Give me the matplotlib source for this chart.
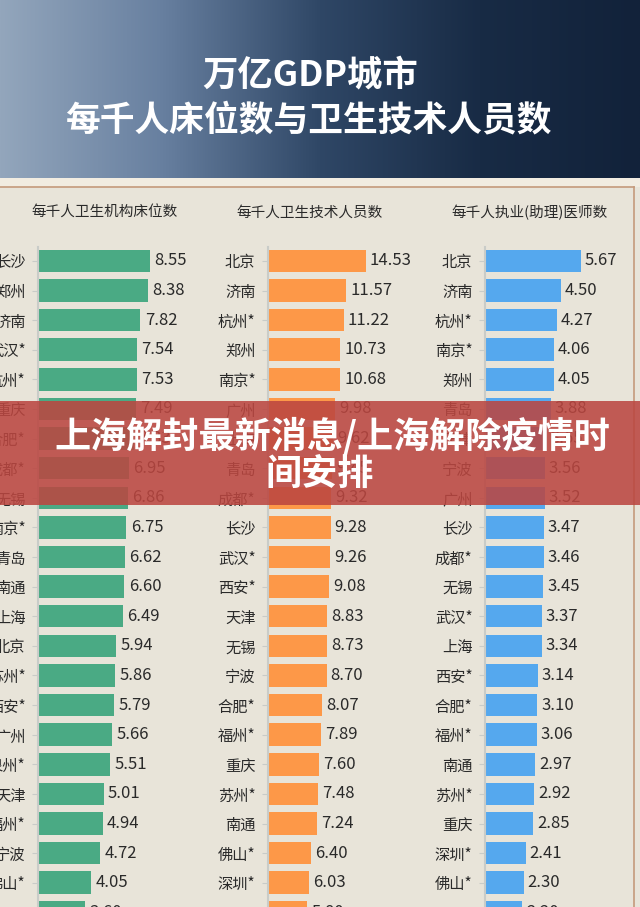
#!/usr/bin/env python3
"""万亿GDP城市 每千人床位数与卫生技术人员数 — three horizontal bar panels."""

import matplotlib
matplotlib.use("Agg")
import matplotlib.pyplot as plt
import numpy as np
from matplotlib.colors import LinearSegmentedColormap
from matplotlib.lines import Line2D
from matplotlib.patches import Rectangle

plt.rcParams["font.family"] = ["Noto Sans CJK SC", "DejaVu Sans"]

# ---- data (last row is cut by the image edge) ----
beds_cities = ["长沙", "郑州", "济南", "武汉*", "杭州*", "重庆", "合肥*", "成都*",
               "无锡", "南京*", "青岛", "南通", "上海", "北京", "苏州*", "西安*",
               "广州", "泉州*", "天津", "福州*", "宁波", "佛山*", "深圳*"]
beds_values = [8.55, 8.38, 7.82, 7.54, 7.53, 7.49, 7.33, 6.95, 6.86, 6.75, 6.62,
               6.60, 6.49, 5.94, 5.86, 5.79, 5.66, 5.51, 5.01, 4.94, 4.72, 4.05, 3.60]

tech_cities = ["北京", "济南", "杭州*", "郑州", "南京*", "广州", "上海", "青岛",
               "成都*", "长沙", "武汉*", "西安*", "天津", "无锡", "宁波", "合肥*",
               "福州*", "重庆", "苏州*", "南通", "佛山*", "深圳*", "泉州*"]
tech_values = [14.53, 11.57, 11.22, 10.73, 10.68, 9.98, 9.62, 9.45, 9.32, 9.28,
               9.26, 9.08, 8.83, 8.73, 8.70, 8.07, 7.89, 7.60, 7.48, 7.24, 6.40,
               6.03, 5.80]

doc_cities = ["北京", "济南", "杭州*", "南京*", "郑州", "青岛", "天津", "宁波",
              "广州", "长沙", "成都*", "无锡", "武汉*", "上海", "西安*", "合肥*",
              "福州*", "南通", "苏州*", "重庆", "深圳*", "佛山*", "泉州*"]
doc_values = [5.67, 4.50, 4.27, 4.06, 4.05, 3.88, 3.65, 3.56, 3.52, 3.47, 3.46,
              3.45, 3.37, 3.34, 3.14, 3.10, 3.06, 2.97, 2.92, 2.85, 2.41, 2.30, 2.20]

panel_titles = ["每千人卫生机构床位数", "每千人卫生技术人员数", "每千人执业(助理)医师数"]

W, H = 640, 907
BG = "#e8e4d9"
TEXT = "#2a2a2a"
AXIS = "#c9ccc8"


def px_rect(x0, y0, x1, y1):
    """pixel box (top-left origin) -> figure fraction [l, b, w, h]"""
    return [x0 / W, (H - y1) / H, (x1 - x0) / W, (y1 - y0) / H]


def draw_panel(ax, cities, values, color, xmax):
    y = np.arange(len(cities))
    ax.barh(y, values, height=0.76, color=color, zorder=2)
    for yi, v in zip(y, values):
        ax.text(v + xmax * 0.026, yi, f"{v:.2f}", va="center", ha="left",
                fontsize=12, fontweight="medium", color=TEXT)
    ax.set_yticks(y)
    ax.set_yticklabels(cities, fontsize=11, fontweight="medium", color=TEXT)
    ax.set_xlim(0, xmax)
    ax.set_ylim(21.82, -0.47)
    ax.set_xticks([])
    ax.set_facecolor("none")
    for s in ("top", "right", "bottom"):
        ax.spines[s].set_visible(False)
    ax.spines["left"].set_color(AXIS)
    ax.spines["left"].set_linewidth(1.5)
    ax.tick_params(axis="y", length=4, color=AXIS, pad=5)


fig = plt.figure(figsize=(W / 100, H / 100), dpi=100, facecolor=BG)

# header band
hax = fig.add_axes(px_rect(0, 0, W, 178))
grad = np.linspace(0, 1, 256)[None, :]
cmap = LinearSegmentedColormap.from_list(
    "hdr", ["#93a6bc", "#6880a0", "#2f4766", "#182b45", "#12223a"])
hax.imshow(grad, aspect="auto", cmap=cmap, extent=[0, 1, 0, 1])
hax.axis("off")
fig.text(0.485, (H - 75) / H, "万亿GDP城市", ha="center", va="center",
         fontsize=25.5, fontweight="bold", color="white")
fig.text(0.482, (H - 120) / H, "每千人床位数与卫生技术人员数", ha="center",
         va="center", fontsize=25, fontweight="bold", color="white")

# cream strip + card border
fig.patches.append(Rectangle((0, (H - 187) / H), 1, 9 / H, transform=fig.transFigure,
                             facecolor="#f1ece1", edgecolor="none", zorder=0))
fig.add_artist(Line2D([0, 634 / W], [(H - 187) / H] * 2, transform=fig.transFigure,
                      color="#c49a7c", linewidth=1.2))
fig.add_artist(Line2D([634 / W] * 2, [0, (H - 187) / H], transform=fig.transFigure,
                      color="#c49a7c", linewidth=1.2))

# panel titles
for x, t in zip([105, 310, 530], panel_titles):
    fig.text(x / W, (H - 213) / H, t, ha="center", va="center",
             fontsize=10.5, color=TEXT)

ax1 = fig.add_axes(px_rect(38, 247, 205, H))
ax2 = fig.add_axes(px_rect(268, 247, 425, H))
ax3 = fig.add_axes(px_rect(485, 247, 625, H))
draw_panel(ax1, beds_cities, beds_values, "#4aaa84", 12.75)
draw_panel(ax2, tech_cities, tech_values, "#fd9848", 23.3)
draw_panel(ax3, doc_cities, doc_values, "#55a8ee", 8.27)

# overlay banner
fig.patches.append(Rectangle((0, (H - 505) / H), 1, 104 / H, transform=fig.transFigure,
                             facecolor="#bb4640", edgecolor="none", alpha=0.87,
                             zorder=10))
fig.text(0.52, (H - 437) / H, "上海解封最新消息/上海解除疫情时", ha="center",
         va="center", fontsize=26, fontweight="bold", color="white", zorder=11)
fig.text(0.5, (H - 474) / H, "间安排", ha="center", va="center",
         fontsize=26, fontweight="bold", color="white", zorder=11)

fig.savefig("out.png", dpi=100, facecolor=BG)
